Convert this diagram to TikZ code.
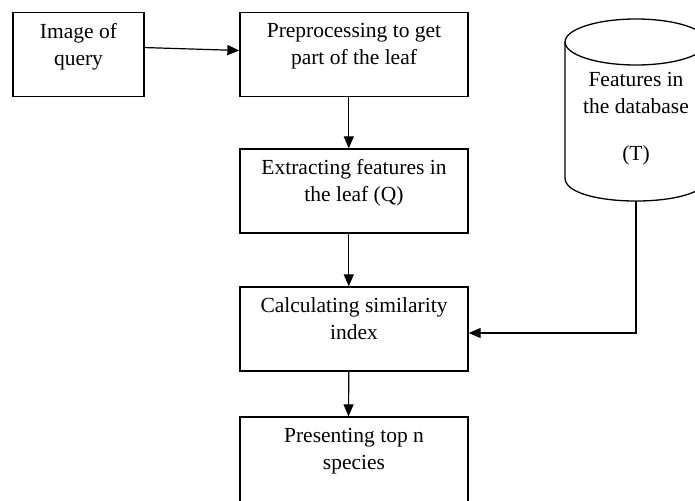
\documentclass[tikz,border=0pt]{standalone}
\usepackage{fontspec}
\setmainfont{Liberation Serif}
\usetikzlibrary{arrows.meta}

\newlength{\du}
\setlength{\du}{10\unitlength}
\newcommand{\stagefont}{\fontsize{21.5}{27}\selectfont}

\tikzset{
  stagebox/.style={draw=black, line width=0.13\du, minimum width=22.8\du, minimum height=8.4\du, inner sep=0pt},
  stagetext/.style={anchor=north, align=center, inner sep=0pt, font=\stagefont},
  dbline/.style={draw=black, line width=0.13\du},
  flow/.style={draw=black, line width=0.12\du, -{Triangle[length=12pt,width=10pt]}},
}

\begin{document}
\begin{tikzpicture}
\pgftransformxscale{1.000000}
\pgftransformyscale{-1.000000}
\useasboundingbox (0\du,0\du) rectangle (69.5\du,50\du);
% query image
\node[stagebox, minimum width=13.1\du] (query) at (7.85\du,5.45\du) {};
\node[stagetext] (querytext) at (7.85\du,2.3\du) {Image of\\query};
% preprocessing
\node[stagebox] (prep) at (35.4\du,5.45\du) {};
\node[stagetext] (preptext) at (35.4\du,2.3\du) {Preprocessing to get\\part of the leaf};
% feature extraction
\node[stagebox] (extract) at (35.4\du,19.1\du) {};
\node[stagetext] (extracttext) at (35.4\du,15.9\du) {Extracting features in\\the leaf (Q)};
% similarity
\node[stagebox] (simil) at (35.4\du,32.9\du) {};
\node[stagetext] (similtext) at (35.4\du,29.7\du) {Calculating similarity\\index};
% result (runs off the bottom edge)
\node[stagebox, minimum height=8.8\du] (result) at (35.4\du,46.1\du) {};
\node[stagetext] (resulttext) at (35.4\du,42.8\du) {Presenting top n\\species};
% database cylinder
\draw[dbline] (63.6\du,4.2\du) ellipse [x radius=7.1\du, y radius=2.3\du];
\draw[dbline] (56.5\du,4.2\du) -- (56.5\du,17.8\du) .. controls (56.5\du,20.87\du) and (70.7\du,20.87\du) .. (70.7\du,17.8\du) -- (70.7\du,4.2\du);
\coordinate (dbbottom) at (63.6\du,20.1\du);
\node[stagetext] (dbtext) at (63.6\du,7.2\du) {Features in\\the database\\[2.0\du](T)};
% arrows
\draw[flow] (query.6) -- (prep.178);
\draw[flow] (prep.263) -- (extract.97);
\draw[flow] (extract.263) -- (simil.97);
\draw[flow] (simil.263) -- (result.97);
\draw[flow] (dbbottom) |- (simil.-2);
\end{tikzpicture}
\end{document}
